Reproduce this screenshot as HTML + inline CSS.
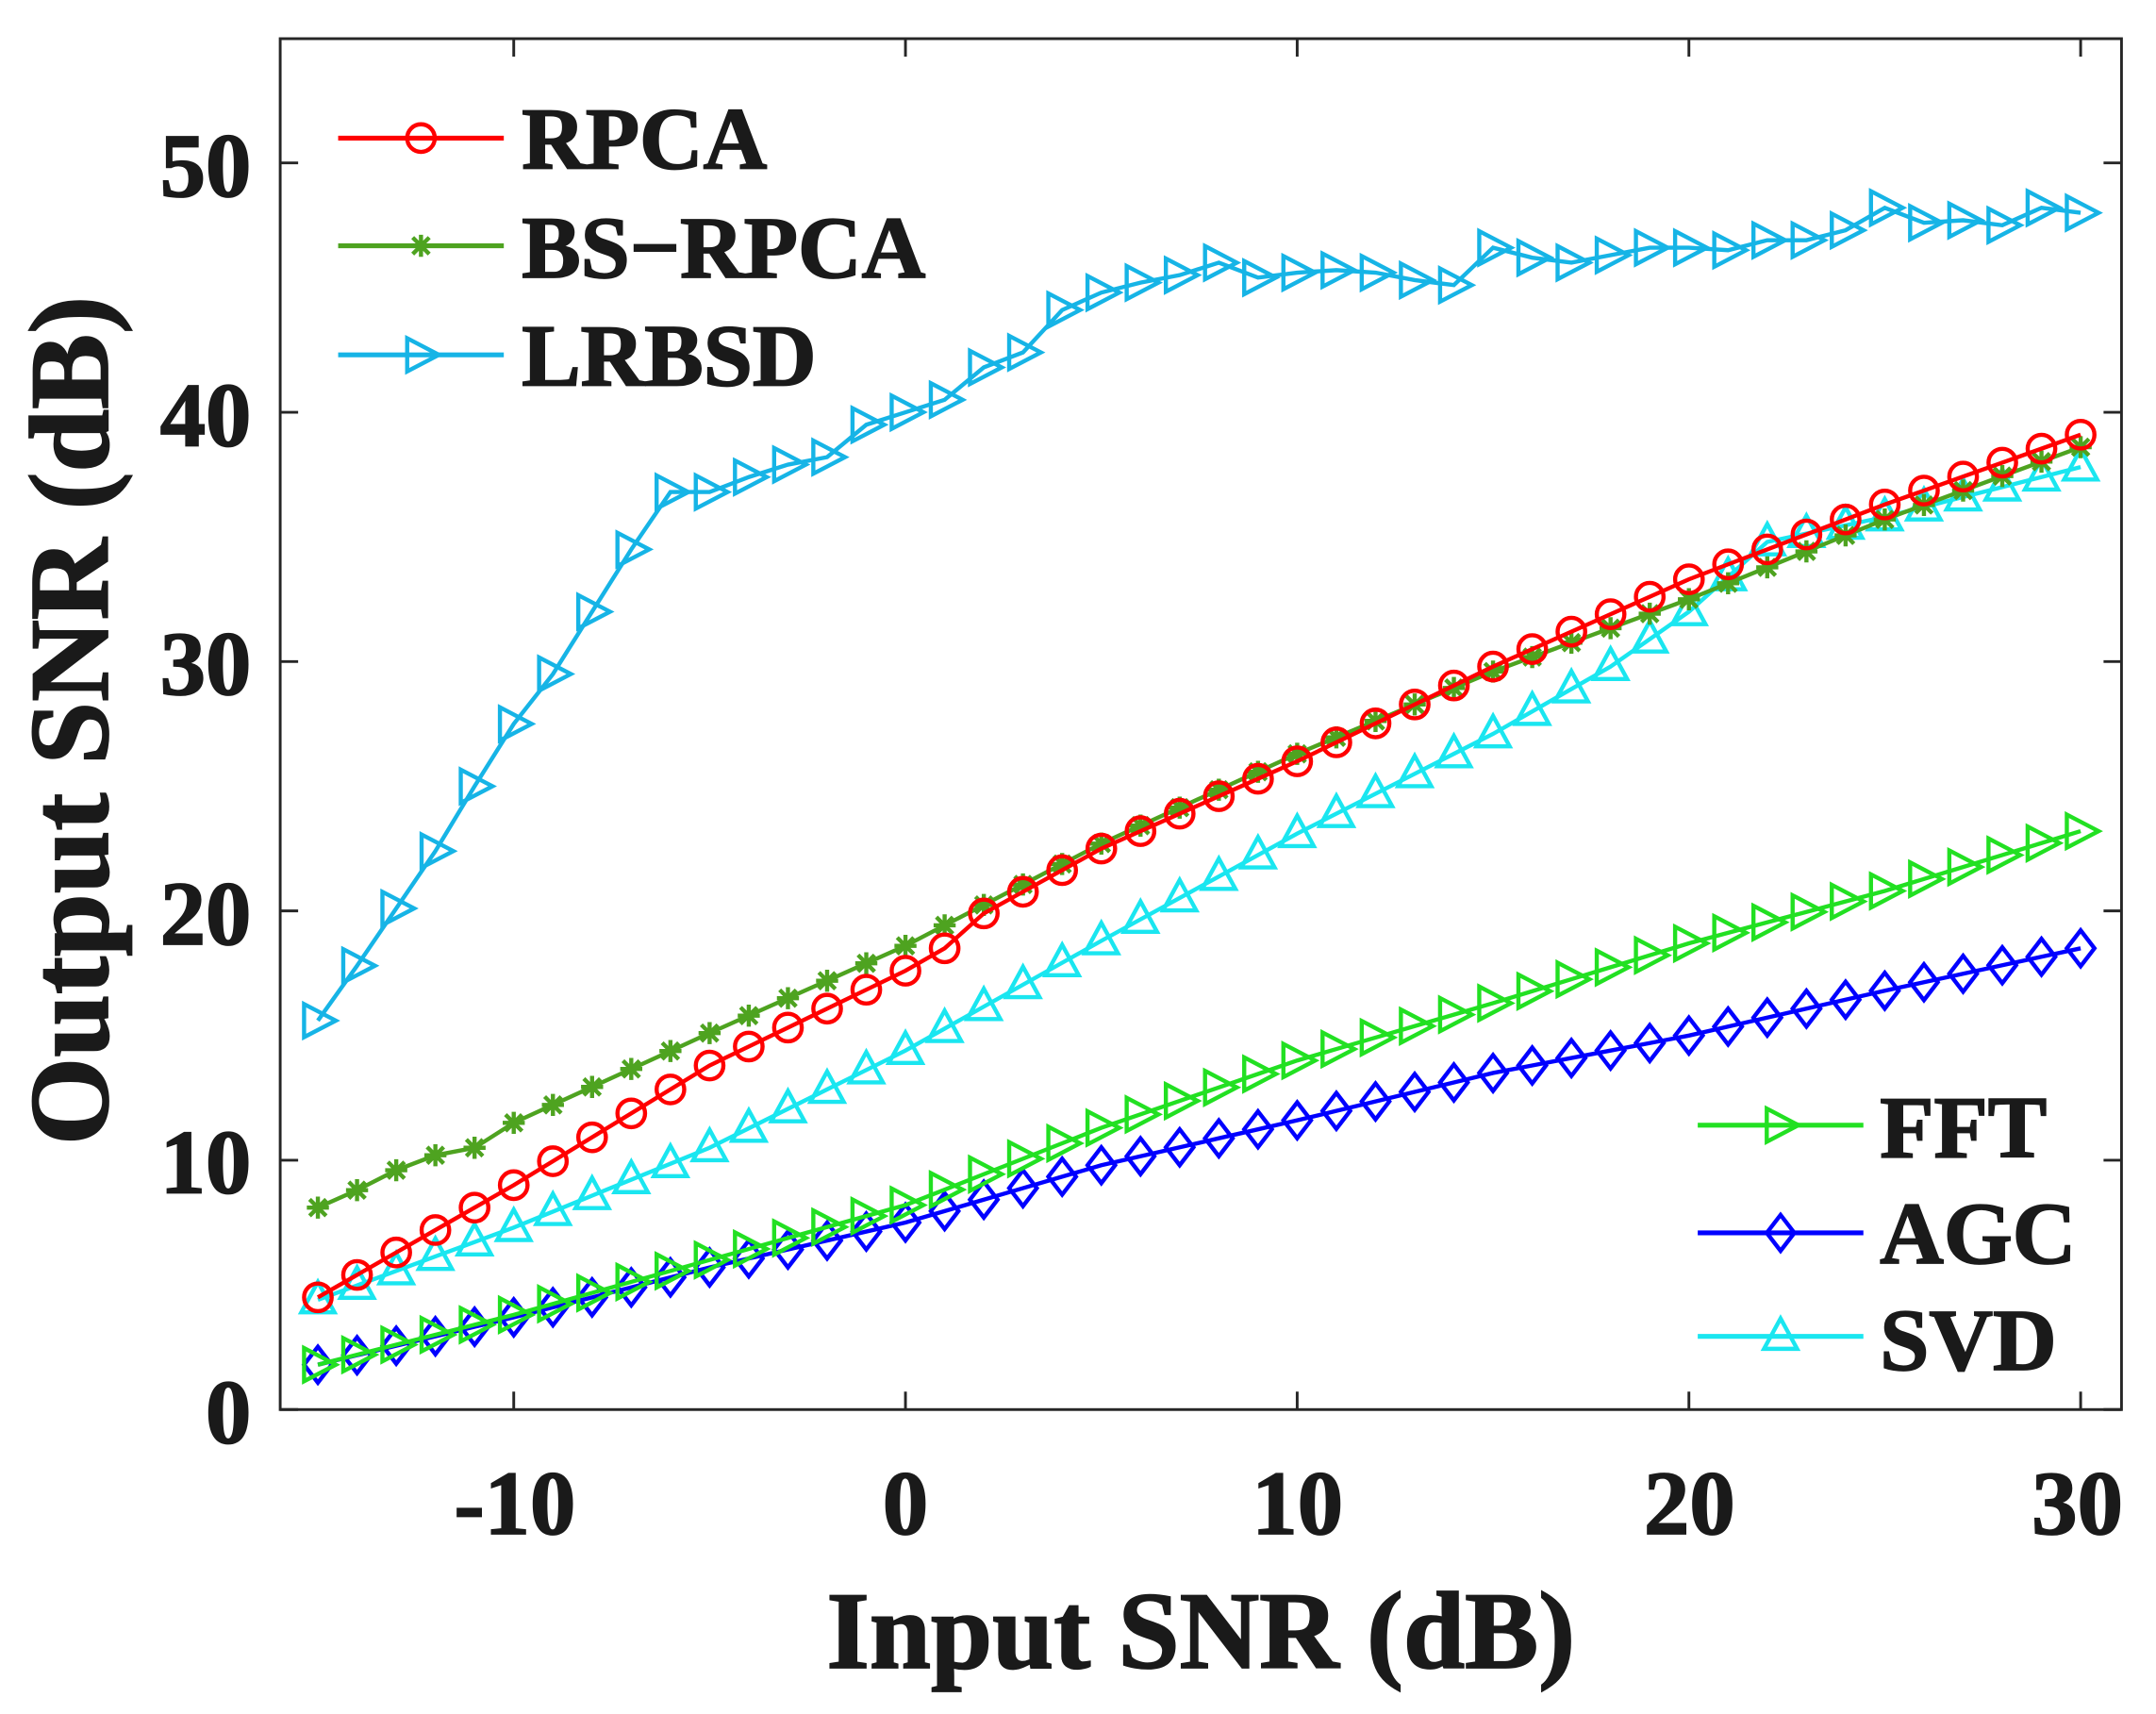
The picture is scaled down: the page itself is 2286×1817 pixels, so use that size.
<!DOCTYPE html>
<html><head><meta charset="utf-8"><style>
html,body{margin:0;padding:0;background:#fff;}
svg{display:block;}
text{font-family:"Liberation Serif",serif;font-weight:bold;fill:#1a1a1a;stroke:#1a1a1a;stroke-width:1.2;}
</style></head><body>
<svg id="s" width="2286" height="1817" viewBox="0 0 1562 1241.5" xmlns="http://www.w3.org/2000/svg">
<rect x="0" y="0" width="1562" height="1241.5" fill="#fff"/>
<g id="plot"></g>
<rect x="203" y="28" width="1334" height="993" fill="none" stroke="#262626" stroke-width="2"/>
<g id="ticks" stroke="#262626" stroke-width="2"></g>
<g font-size="66" text-anchor="end">
<text x="182" y="1045">0</text>
<text x="182" y="864">10</text>
<text x="182" y="684">20</text>
<text x="182" y="503">30</text>
<text x="182" y="323">40</text>
<text x="182" y="142">50</text>
</g>
<g font-size="66" text-anchor="middle">
<text x="373" y="1111">-10</text>
<text x="656" y="1111">0</text>
<text x="940" y="1111">10</text>
<text x="1224" y="1111">20</text>
<text x="1505" y="1111">30</text>
</g>
<text x="870" y="1208" font-size="80" text-anchor="middle">Input SNR (dB)</text>
<text transform="translate(78,522) rotate(-90)" font-size="82" text-anchor="middle">Output SNR (dB)</text>
<g id="legend"></g>
<g font-size="64">
<text x="378" y="122">RPCA</text>
<text x="378" y="201">BS−RPCA</text>
<text x="378" y="279">LRBSD</text>
<text x="1362" y="838">FFT</text>
<text x="1362" y="915">AGC</text>
<text x="1362" y="992">SVD</text>
</g>
</svg>
<script>
const NS="http://www.w3.org/2000/svg";
const X=v=>656+v*28.38, Y=v=>1021-v*18.06;
function el(p,t,a){const e=document.createElementNS(NS,t);for(const k in a)e.setAttribute(k,a[k]);p.appendChild(e);return e;}
const tk=document.getElementById('ticks');
[-10,0,10,20,30].forEach(v=>{el(tk,'line',{x1:X(v),x2:X(v),y1:1021,y2:1008});el(tk,'line',{x1:X(v),x2:X(v),y1:28,y2:41});});
[0,10,20,30,40,50].forEach(v=>{el(tk,'line',{x1:203,x2:216,y1:Y(v),y2:Y(v)});el(tk,'line',{x1:1537,x2:1524,y1:Y(v),y2:Y(v)});});
function interp(k){const xs=[];for(let x=-15;x<=30;x++){let v;for(let i=0;i<k.length-1;i++){if(x>=k[i][0]&&x<=k[i+1][0]){const t=(x-k[i][0])/(k[i+1][0]-k[i][0]);v=k[i][1]+t*(k[i+1][1]-k[i][1]);break;}}xs.push([x,v]);}return xs;}
const lr=[15.6,17.8,20.1,22.4,25,27.5,29.5,32,34.5,36.8,36.8,37.4,37.9,38.2,39.5,40,40.5,41.8,42.4,44.1,44.8,45.2,45.5,46,45.4,45.6,45.7,45.6,45.3,45.1,46.6,46.2,46,46.3,46.6,46.6,46.5,46.9,46.9,47.3,48.2,47.6,47.7,47.5,48.2,48].map((v,i)=>[i-15,v]);
const series=[
{c:'#0000ff',m:'dia',d:interp([[-15,1.8],[-10,3.7],[-5,5.7],[0,7.5],[5,9.8],[10,11.6],[15,13.5],[20,15],[25,16.8],[30,18.5]])},
{c:'#22e022',m:'tri',d:interp([[-15,1.8],[-10,3.8],[-5,6],[0,8.2],[5,11.3],[10,14],[15,16.3],[20,18.7],[25,20.8],[30,23.2]])},
{c:'#1ae6f0',m:'up',d:interp([[-15,4.4],[-10,7.3],[-5,10.5],[0,14.4],[5,18.8],[10,23.1],[15,27.1],[18,29.8],[20,32],[22,34.8],[25,35.8],[30,37.8]])},
{c:'#4ea320',m:'star',d:interp([[-15,8.1],[-14,8.8],[-13,9.6],[-12,10.2],[-11,10.5],[-10,11.5],[-5,15.1],[0,18.6],[5,22.7],[10,26.3],[15,29.6],[20,32.5],[25,35.7],[30,38.6]])},
{c:'#ff0000',m:'circ',d:interp([[-15,4.5],[-10,9],[-5,13.8],[0,17.6],[1,18.5],[2,19.9],[5,22.5],[10,26],[15,29.8],[20,33.3],[25,36.3],[30,39.1]])},
{c:'#16b4e6',m:'tri',d:lr}];
function marker(g,m,x,y,c){const a={fill:'none',stroke:c,'stroke-width':3};
if(m=='circ')el(g,'circle',Object.assign({cx:x,cy:y,r:10},a));
else if(m=='dia')el(g,'polygon',Object.assign({points:`${x},${y-13} ${x+10},${y} ${x},${y+13} ${x-10},${y}`},a));
else if(m=='tri')el(g,'polygon',Object.assign({points:`${x-10},${y-12} ${x+13},${y} ${x-10},${y+12}`},a));
else if(m=='up')el(g,'polygon',Object.assign({points:`${x},${y-13} ${x+12},${y+9} ${x-12},${y+9}`},a));
else if(m=='star'){el(g,'path',Object.assign({d:`M${x-8},${y}H${x+8}M${x},${y-8}V${y+8}M${x-6},${y-6}L${x+6},${y+6}M${x-6},${y+6}L${x+6},${y-6}`},a));}}
const P=document.getElementById('plot');
series.forEach(s=>{el(P,'polyline',{points:s.d.map(p=>X(p[0])+','+Y(p[1])).join(' '),fill:'none',stroke:s.c,'stroke-width':3});
s.d.forEach(p=>marker(P,s.m,X(p[0]),Y(p[1]),s.c));});
const L=document.getElementById('legend');
[[100,'#ff0000','circ',245],[178,'#4ea320','star',245],[257,'#16b4e6','tri',245],[815,'#22e022','tri',1230],[893,'#0000ff','dia',1230],[968,'#1ae6f0','up',1230]].forEach(l=>{
el(L,'line',{x1:l[3],x2:l[3]+120,y1:l[0],y2:l[0],stroke:l[1],'stroke-width':3.5});marker(L,l[2],l[3]+60,l[0],l[1]);});
</script>
</body></html>
